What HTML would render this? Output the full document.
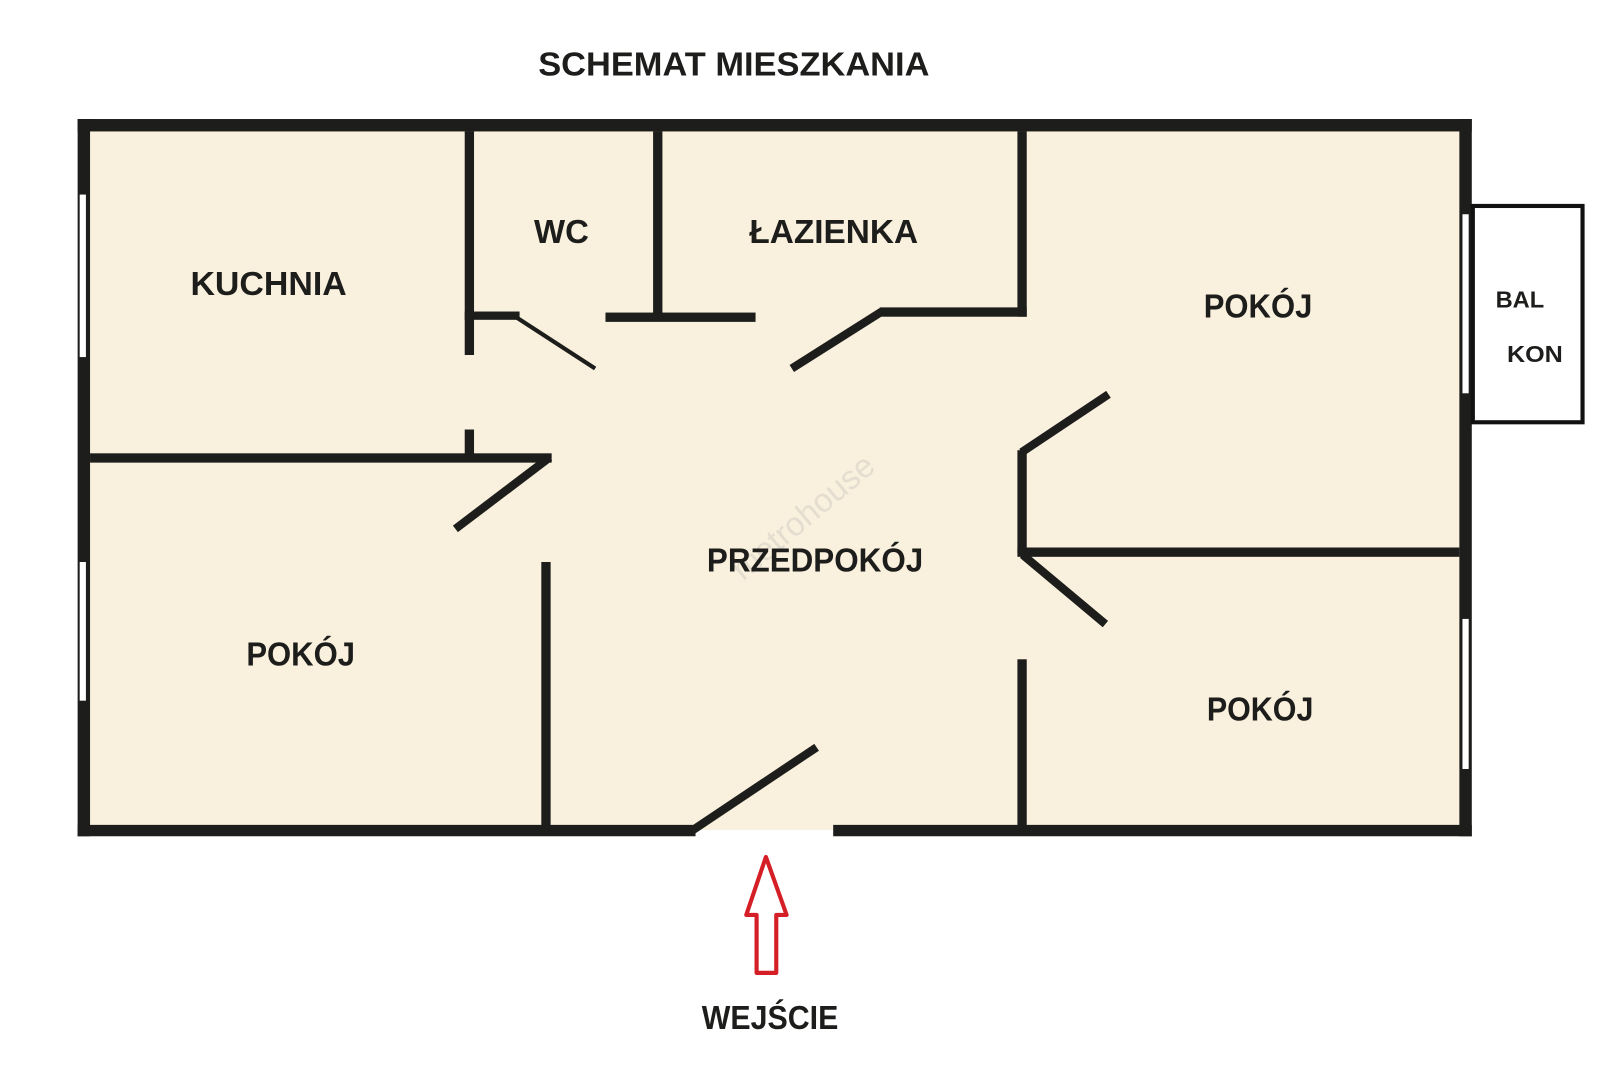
<!DOCTYPE html>
<html><head><meta charset="utf-8"><style>html,body{margin:0;padding:0;background:#fff}svg{display:block}</style></head>
<body>
<svg width="1620" height="1080" viewBox="0 0 1565.2 1043.5" preserveAspectRatio="none" xmlns="http://www.w3.org/2000/svg">
<rect x="0" y="0" width="1566" height="1044" fill="#fff"/>
<rect x="81" y="121" width="1335" height="681" fill="#f9f0dd"/>
<g fill="#1d1d1b">
<rect x="75" y="115" width="1347" height="12"/>
<rect x="75" y="115" width="12" height="693"/>
<rect x="1410" y="115" width="12" height="693"/>
<rect x="75" y="797" width="597" height="11"/>
<rect x="805" y="797" width="617" height="11"/>
</g>
<g fill="#fff">
<rect x="77" y="188" width="6" height="157"/>
<rect x="77" y="543" width="6" height="134"/>
<rect x="1413" y="207" width="6" height="173"/>
<rect x="1413" y="598" width="6" height="145"/>
</g>
<g fill="#1d1d1b">
<rect x="449" y="127" width="9" height="216"/>
<rect x="449" y="415" width="9" height="24"/>
<rect x="449" y="301" width="53" height="8"/>
<rect x="631" y="127" width="9" height="178"/>
<rect x="585" y="302" width="145" height="9"/>
<rect x="983" y="127" width="9" height="179"/>
<rect x="850" y="297" width="142" height="9"/>
<rect x="87" y="438" width="446" height="9"/>
<rect x="523" y="543" width="9" height="257"/>
<rect x="983" y="435" width="9" height="100"/>
<rect x="983" y="529" width="427" height="9"/>
<rect x="983" y="637" width="9" height="163"/>
</g>
<g stroke="#1d1d1b" stroke-linecap="butt" fill="none">
<line x1="498" y1="306" x2="575" y2="356" stroke-width="4"/>
<line x1="852" y1="301" x2="765" y2="356" stroke-width="8"/>
<line x1="531" y1="442" x2="440" y2="511" stroke-width="8"/>
<line x1="987" y1="437" x2="1071" y2="381" stroke-width="8"/>
<line x1="988" y1="536" x2="1068" y2="603" stroke-width="8"/>
<line x1="668" y1="803" x2="789" y2="722" stroke-width="8"/>
</g>
<rect x="1423" y="199" width="106" height="209" fill="#fff" stroke="#111" stroke-width="4"/>
<path d="M740,828 L760,884 L750,884 L750,940 L731,940 L731,884 L721,884 Z" fill="#fff" stroke="#d51f26" stroke-width="4" stroke-linejoin="round"/>
<text x="718" y="562" transform="rotate(-40 718 562)" font-family="Liberation Sans, sans-serif" font-size="32" fill="#d4cec6" opacity="0.55">metrohouse</text>
<g font-family="Liberation Sans, sans-serif" font-weight="bold" fill="#1d1d1b" font-size="32">
<text x="520" y="73" textLength="378" lengthAdjust="spacingAndGlyphs">SCHEMAT MIESZKANIA</text>
<text x="184" y="285" textLength="151" lengthAdjust="spacingAndGlyphs">KUCHNIA</text>
<text x="516" y="235" textLength="53" lengthAdjust="spacingAndGlyphs">WC</text>
<text x="724" y="235" textLength="163" lengthAdjust="spacingAndGlyphs">ŁAZIENKA</text>
<text x="1163" y="307" textLength="105" lengthAdjust="spacingAndGlyphs">POKÓJ</text>
<text x="683" y="552" textLength="209" lengthAdjust="spacingAndGlyphs">PRZEDPOKÓJ</text>
<text x="238" y="643" textLength="105" lengthAdjust="spacingAndGlyphs">POKÓJ</text>
<text x="1166" y="696" textLength="103" lengthAdjust="spacingAndGlyphs">POKÓJ</text>
<text x="678" y="994" textLength="132" lengthAdjust="spacingAndGlyphs">WEJŚCIE</text>
<text x="1445" y="297" font-size="22" textLength="47" lengthAdjust="spacingAndGlyphs">BAL</text>
<text x="1456" y="350" font-size="22" textLength="54" lengthAdjust="spacingAndGlyphs">KON</text>
</g>
</svg>
</body></html>
